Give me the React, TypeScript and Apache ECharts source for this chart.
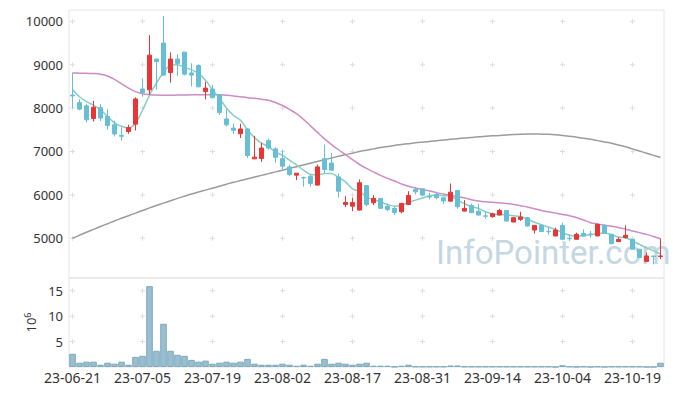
import React, { useEffect, useRef } from "react";
import * as echarts from "echarts";

const dates = [
  "23-06-21", "23-06-22", "23-06-23", "23-06-26", "23-06-27", "23-06-28", "23-06-29", "23-06-30",
  "23-07-03", "23-07-04", "23-07-05", "23-07-06", "23-07-07", "23-07-10", "23-07-11", "23-07-12",
  "23-07-13", "23-07-14", "23-07-17", "23-07-18", "23-07-19", "23-07-20", "23-07-21", "23-07-24",
  "23-07-25", "23-07-26", "23-07-27", "23-07-28", "23-07-31", "23-08-01", "23-08-02", "23-08-03",
  "23-08-04", "23-08-07", "23-08-08", "23-08-09", "23-08-10", "23-08-11", "23-08-14", "23-08-16",
  "23-08-17", "23-08-18", "23-08-21", "23-08-22", "23-08-23", "23-08-24", "23-08-25", "23-08-28",
  "23-08-29", "23-08-30", "23-08-31", "23-09-01", "23-09-04", "23-09-05", "23-09-06", "23-09-07",
  "23-09-08", "23-09-11", "23-09-12", "23-09-13", "23-09-14", "23-09-15", "23-09-18", "23-09-19",
  "23-09-20", "23-09-21", "23-09-22", "23-09-25", "23-09-26", "23-09-27", "23-10-04", "23-10-05",
  "23-10-06", "23-10-10", "23-10-11", "23-10-12", "23-10-13", "23-10-16", "23-10-17", "23-10-18",
  "23-10-19", "23-10-20", "23-10-23", "23-10-24", "23-10-25",
];

const opens = [
  8300, 8127, 8051, 7760, 8010, 7806, 7615, 7370, 7460, 7630,
  8440, 8420, 9130, 9500, 8820, 9130, 9290, 8810, 8980, 8380,
  8440, 8300, 7750, 7540, 7410, 7520, 6830, 6840, 7250, 7060,
  6835, 6645, 6455, 6400, 6430, 6225, 6835, 6735, 6415, 5780,
  5740, 5650, 6215, 5820, 5918, 5740, 5690, 5612, 5780, 6125,
  6140, 5960, 6010, 5935, 5856, 6100, 5626, 5757, 5625, 5515,
  5500, 5535, 5642, 5375, 5436, 5475, 5190, 5298, 5160, 5053,
  5298, 5000, 4977, 5115, 5095, 5053, 5298, 5092, 4924, 5016,
  4977, 4748, 4465, 4590, 4580,
];
const closes = [
  8280, 7975, 7730, 8021, 7770, 7600, 7402, 7350, 7550, 8210,
  8360, 9220, 9070, 8760, 9130, 9030, 8780, 8760, 8490, 8460,
  8240, 7900, 7615, 7490, 7520, 6910, 6870, 7080, 7080, 6865,
  6660, 6470, 6500, 6390, 6265, 6645, 6585, 6570, 6085, 5825,
  5825, 6280, 5780, 5920, 5690, 5665, 5595, 5803, 5985, 6070,
  5995, 5950, 5935, 5860, 6062, 5727, 5688, 5590, 5535, 5510,
  5566, 5642, 5397, 5475, 5489, 5282, 5298, 5154, 5150, 5190,
  4977, 4990, 5092, 5053, 5090, 5321, 5115, 4878, 4977, 5069,
  4748, 4557, 4594, 4580, 4594,
];
const lows = [
  7998, 7950, 7668, 7691, 7700, 7500, 7347, 7250, 7409, 7485,
  8265, 8303, 8420, 8740, 8586, 8740, 8750, 8500, 8480, 8200,
  8227, 7840, 7575, 7400, 7310, 6850, 6830, 6760, 7042, 6740,
  6580, 6429, 6340, 6190, 6190, 6220, 6505, 6560, 5935, 5720,
  5625, 5640, 5740, 5765, 5680, 5625, 5535, 5575, 5775, 6010,
  5990, 5895, 5900, 5795, 5850, 5680, 5620, 5585, 5530, 5450,
  5475, 5530, 5390, 5370, 5397, 5270, 5108, 5150, 5080, 5050,
  4975, 4940, 4975, 5050, 5015, 5050, 5110, 4860, 4920, 4993,
  4745, 4550, 4460, 4400, 4518,
];
const highs = [
  8815, 8205, 8097, 8166, 8090, 7975, 7707, 7560, 7615, 8250,
  8687, 9680, 9140, 10120, 9283, 9240, 9290, 9030, 9010, 8610,
  8533, 8310, 7975, 7640, 7640, 7530, 7360, 7200, 7294, 7100,
  7040, 6698, 6500, 6420, 6470, 6700, 7160, 6965, 6490, 5970,
  5935, 6355, 6220, 5995, 5930, 5795, 5720, 5820, 6085, 6185,
  6150, 6050, 6040, 5940, 6262, 6105, 5880, 5800, 5796, 5612,
  5590, 5680, 5650, 5480, 5612, 5490, 5300, 5310, 5250, 5245,
  5360, 5090, 5130, 5206, 5170, 5340, 5320, 5095, 5020, 5298,
  4980, 4750, 4672, 4600, 4993,
];

// volume in millions of shares
const volumes = [
  2.6, 0.85, 1.05, 1.05, 0.45, 0.85, 0.65, 1.05, 0.45, 2.0,
  2.2, 15.9, 3.2, 8.5, 3.2, 2.4, 2.2, 1.4, 1.05, 1.25,
  0.65, 0.85, 1.05, 0.85, 1.05, 1.6, 0.65, 0.45, 0.45, 0.45,
  0.65, 0.45, 0.25, 0.45, 0.25, 0.65, 1.6, 0.65, 0.85, 0.65,
  0.45, 0.65, 0.85, 0.25, 0.25, 0.25, 0.06, 0.25, 0.45, 0.1,
  0.1, 0.1, 0.1, 0.1, 0.3, 0.3, 0.1, 0.1, 0.1, 0.1,
  0.1, 0.1, 0.1, 0.1, 0.1, 0.1, 0.1, 0.1, 0.1, 0.02,
  0.35, 0.1, 0.02, 0.1, 0.02, 0.1, 0.02, 0.1, 0.1, 0.1,
  0.1, 0.1, 0.02, 0.02, 0.85,
];

const ma5 = [
  8430, 8260, 8150, 8070, 7960, 7810, 7660, 7580, 7540, 7650,
  7950, 8300, 8580, 8820, 8990, 9000, 8940, 8880, 8800, 8640,
  8420, 8230, 8000, 7830, 7720, 7500, 7320, 7190, 7110, 6990,
  6910, 6800, 6690, 6570, 6470, 6460, 6490, 6490, 6400, 6300,
  6140, 6080, 5950, 5890, 5840, 5780, 5740, 5760, 5830, 5880,
  5930, 5980, 6000, 5980, 5970, 5880, 5800, 5730, 5690, 5610,
  5560, 5550, 5540, 5520, 5500, 5440, 5370, 5310, 5260, 5200,
  5130, 5070, 5050, 5060, 5080, 5110, 5120, 5080, 5030, 5010,
  4940, 4860, 4780, 4710, 4640,
];
const ma20 = [
  8810, 8805, 8800, 8795, 8780, 8740, 8660, 8560, 8460, 8380,
  8330, 8310, 8300, 8295, 8295, 8300, 8300, 8305, 8305, 8310,
  8310, 8305, 8295, 8280, 8260, 8240, 8225, 8205, 8180, 8130,
  8060, 7970, 7870, 7740, 7590, 7440, 7290, 7160, 7040, 6930,
  6810, 6700, 6610, 6530, 6450, 6380, 6320, 6250, 6200, 6160,
  6120, 6090, 6050, 6020, 5990, 5960, 5930, 5890, 5860, 5840,
  5830, 5820, 5800, 5780, 5750, 5720, 5680, 5640, 5610, 5580,
  5550, 5520, 5480, 5420, 5360, 5330, 5300, 5280, 5250, 5210,
  5170, 5130, 5090, 5040, 4990,
];
const ma60 = [
  5000, 5070, 5140, 5205, 5270, 5335, 5400, 5460, 5520, 5580,
  5640, 5700, 5755, 5810, 5865, 5920, 5970, 6020, 6065, 6110,
  6155, 6200, 6245, 6290, 6330, 6370, 6410, 6450, 6490, 6530,
  6570, 6610, 6650, 6690, 6730, 6770, 6810, 6850, 6890, 6930,
  6960, 7000, 7030, 7060, 7090, 7115, 7140, 7160, 7180, 7200,
  7215, 7230, 7250, 7265, 7280, 7295, 7310, 7325, 7340, 7350,
  7360, 7370, 7380, 7390, 7400, 7405, 7405, 7400, 7395, 7385,
  7370, 7350, 7330, 7305, 7280, 7250, 7220, 7190, 7150, 7110,
  7060, 7010, 6960, 6910, 6860,
];

const priceTicks = [5000, 6000, 7000, 8000, 9000, 10000];
const volumeTicks = [5, 10, 15];
const LABEL_STEP = 10;

const UP = "#e83636";
const DOWN = "#67bfd6";
const FONT = "Noto Sans";

export default function App() {
  const ref = useRef<HTMLDivElement>(null);

  useEffect(() => {
    if (!ref.current) return;
    const chart = echarts.init(ref.current, null, { renderer: "svg" });

    const tickIdx = dates.map((_, i) => i).filter((i) => i % LABEL_STEP === 0);
    const crossMain = tickIdx.flatMap((i) => priceTicks.map((v) => [i, v]));
    const crossVol = tickIdx.flatMap((i) => volumeTicks.map((v) => [i, v]));
    const plus = "path://M0,2H5V3H0Z M2,0H3V5H2Z";
    const ohlc = dates.map((_, i) => [opens[i], closes[i], lows[i], highs[i]]);

    chart.setOption({
      animation: false,
      backgroundColor: "#ffffff",
      graphic: [
        {
          type: "text",
          left: 436,
          top: 236,
          z: 0,
          silent: true,
          style: {
            text: "InfoPointer.com",
            font: "33px Roboto",
            fill: "#c4d7e2",
          },
        },
      ],
      grid: [
        { left: 69, right: 9, top: 10, height: 268, show: true, borderColor: "#e4e4e4", borderWidth: 1 },
        { left: 69, right: 9, top: 278, height: 89, show: true, borderColor: "#e4e4e4", borderWidth: 1 },
      ],
      xAxis: [
        {
          type: "category",
          gridIndex: 0,
          data: dates,
          axisLine: { show: false },
          axisTick: { show: false },
          axisLabel: { show: false },
          splitLine: { show: false },
        },
        {
          type: "category",
          gridIndex: 1,
          data: dates,
          axisLine: { show: false },
          axisTick: { show: false },
          splitLine: { show: false },
          axisLabel: {
            interval: LABEL_STEP - 1,
            color: "#333",
            fontSize: 14,
            fontFamily: FONT,
            margin: 3,
          },
        },
      ],
      yAxis: [
        {
          type: "value",
          gridIndex: 0,
          min: 4085,
          max: 10260,
          axisLine: { show: false },
          axisTick: { show: false },
          splitLine: { show: false },
          axisLabel: {
            color: "#333",
            fontSize: 13,
            fontFamily: FONT,
            margin: 6,
            showMinLabel: false,
            showMaxLabel: false,
            formatter: (v: number) => String(v),
          },
        },
        {
          type: "value",
          gridIndex: 1,
          min: 0,
          max: 17.5,
          interval: 5,
          axisLine: { show: false },
          axisTick: { show: false },
          splitLine: { show: false },
          axisLabel: {
            color: "#333",
            fontSize: 13,
            fontFamily: FONT,
            margin: 6,
            showMinLabel: false,
            showMaxLabel: false,
          },
          name: "10{s|6}",
          nameLocation: "middle",
          nameRotate: 90,
          nameGap: 28,
          nameTextStyle: {
            color: "#333",
            fontSize: 13,
            fontFamily: FONT,
            rich: { s: { fontSize: 9, verticalAlign: "top", color: "#333", fontFamily: FONT, padding: [0, 0, 6, 0] } },
          },
        },
      ],
      series: [
        {
          type: "scatter",
          xAxisIndex: 0,
          yAxisIndex: 0,
          data: crossMain,
          symbol: plus,
          symbolSize: 5,
          silent: true,
          z: 1,
          itemStyle: { color: "#d6d6d6" },
        },
        {
          type: "scatter",
          xAxisIndex: 1,
          yAxisIndex: 1,
          data: crossVol,
          symbol: plus,
          symbolSize: 5,
          silent: true,
          z: 1,
          itemStyle: { color: "#d6d6d6" },
        },
        {
          name: "MA60",
          type: "line",
          xAxisIndex: 0,
          yAxisIndex: 0,
          data: ma60,
          symbol: "none",
          smooth: 0.3,
          z: 2,
          lineStyle: { color: "#9b9b9b", width: 1.5 },
        },
        {
          name: "MA20",
          type: "line",
          xAxisIndex: 0,
          yAxisIndex: 0,
          data: ma20,
          symbol: "none",
          smooth: 0.3,
          z: 2,
          lineStyle: { color: "#cc8cc4", width: 1.5 },
        },
        {
          name: "MA5",
          type: "line",
          xAxisIndex: 0,
          yAxisIndex: 0,
          data: ma5,
          symbol: "none",
          smooth: 0.3,
          z: 2,
          lineStyle: { color: "#88cdc3", width: 1.5 },
        },
        {
          type: "candlestick",
          xAxisIndex: 0,
          yAxisIndex: 0,
          data: ohlc,
          barWidth: 5,
          z: 3,
          itemStyle: {
            color: UP,
            color0: DOWN,
            borderColor: UP,
            borderColor0: DOWN,
            borderWidth: 1,
          },
        },
        {
          type: "bar",
          xAxisIndex: 1,
          yAxisIndex: 1,
          data: volumes,
          barCategoryGap: "6%",
          z: 2,
          itemStyle: { color: "#98bfcf", borderColor: "#7fa9bd", borderWidth: 1 },
        },
      ],
    });

    return () => chart.dispose();
  }, []);

  return (
    <div
      ref={ref}
      style={{ position: "fixed", left: 0, top: 0, width: 673, height: 396 }}
    />
  );
}
